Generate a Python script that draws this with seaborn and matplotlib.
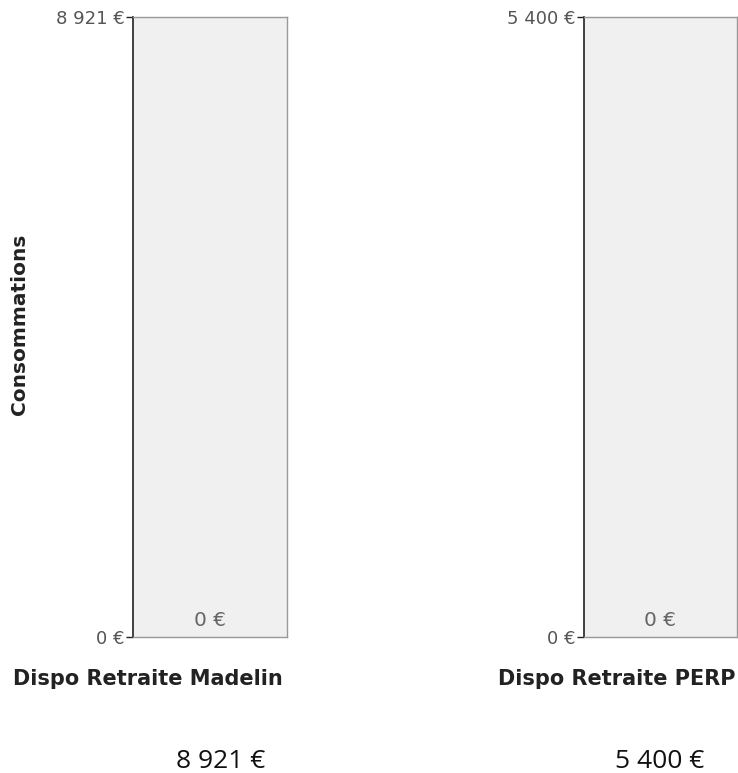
import matplotlib
matplotlib.use("Agg")
import matplotlib.pyplot as plt
import seaborn as sns
import pandas as pd

# data
categories = ["Dispo Retraite Madelin", "Dispo Retraite PERP"]
disponible = [8921, 5400]
consomme = [0, 0]
axis_label = "Consommations"

def euro(v):
    return f"{v:,.0f} €".replace(",", " ")

sns.set_style("white")
plt.rcParams['font.family'] = ['DejaVu Sans']

fig = plt.figure(figsize=(7.38, 7.73), dpi=100)
W, H = 738, 773
# axes boxes in pixels: left, right, top, bottom
boxes = [(133, 287, 17, 637), (584, 737, 17, 637)]
value_x = [221, 660]
label_right = [283, 736]

for i, cat in enumerate(categories):
    l, r, t, b = boxes[i]
    ax = fig.add_axes([l / W, (H - b) / H, (r - l) / W, (b - t) / H])
    df = pd.DataFrame({"cat": [cat, cat], "serie": ["dispo", "conso"],
                       "val": [disponible[i], consomme[i]]})
    sns.barplot(data=df, x="cat", y="val", hue="serie", dodge=False,
                palette=["#f0f0f0", "#7fa7d6"], width=1.0, legend=False,
                edgecolor="none", linewidth=0, ax=ax)
    ax.set_xlim(-0.5, 0.5)
    ax.set_ylim(0, disponible[i])
    ax.set_yticks([0, disponible[i]])
    ax.set_yticklabels([euro(0), euro(disponible[i])], color="#555555", fontsize=13)
    ax.tick_params(axis="y", left=True, length=5, width=1, color="#222222", pad=1)
    ax.set_xticks([])
    ax.set_xlabel("")
    ax.set_ylabel("")
    for s in ["top", "right", "bottom"]:
        ax.spines[s].set_color("#999999")
        ax.spines[s].set_linewidth(1)
    ax.spines["left"].set_color("#222222")
    ax.spines["left"].set_linewidth(1.2)
    ax.bar_label(ax.containers[1], labels=[euro(consomme[i])], padding=5,
                 color="#666666", fontsize=14.5)
    fig.text(label_right[i] / W, 1 - 679 / H, cat, ha="right", va="center",
             fontweight="bold", fontsize=15, color="#222222")
    fig.text(value_x[i] / W, 1 - 761 / H, euro(disponible[i]), ha="center", va="center",
             fontsize=19, family=["Open Sans", "DejaVu Sans"], color="#111111")

fig.text(20 / W, 1 - 324 / H, axis_label, rotation=90, ha="center", va="center",
         fontweight="bold", fontsize=14.5, color="#222222")

fig.savefig("out.png", dpi=100)
